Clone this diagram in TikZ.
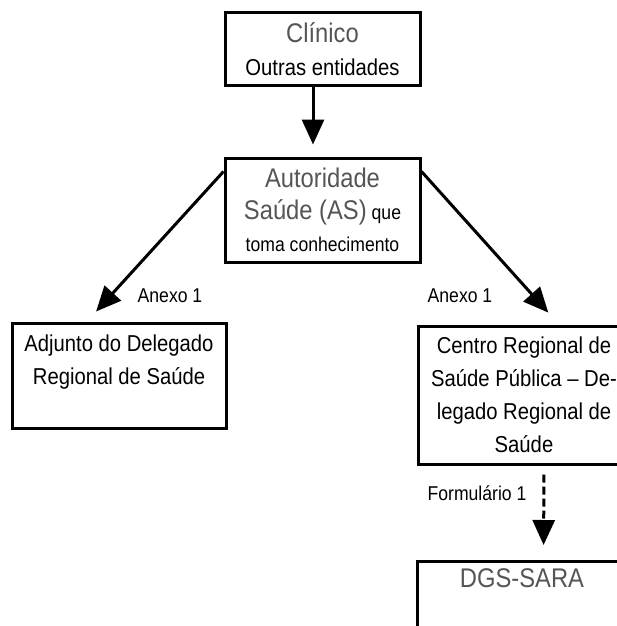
\documentclass[tikz,border=0pt]{standalone}
\usepackage{fontspec}
\setmainfont{Liberation Sans}[FakeStretch=0.88]
\usepackage{xcolor}
\usetikzlibrary{arrows.meta,positioning}
\definecolor{softgrey}{HTML}{555555}
\newcommand{\lgtext}{\fontsize{27}{32}\selectfont}
\newcommand{\mdtext}{\fontsize{23}{33}\selectfont}
\newcommand{\smtext}{\fontsize{20}{32}\selectfont}

\begin{document}
\begin{tikzpicture}[
  x=1pt, y=-1pt,
  box/.style={draw, line width=3pt, inner sep=0pt, align=center},
  arr/.style={line width=3pt, -{Triangle[length=25pt,width=22pt]}},
  darr/.style={arr, dash pattern=on 8pt off 4pt},
  lbl/.style={font=\smtext, inner sep=0pt}
]
\useasboundingbox (0,0) rectangle (617,626);
\clip (0,0) rectangle (617,626);

% ---- Top: who reports ----
\node[box, minimum width=195pt, minimum height=72pt, font=\mdtext] (clin) at (322.5,49)
  {{\lgtext\color{softgrey}Clínico}\\Outras entidades};
\node[box, minimum width=195pt, minimum height=104pt, font=\smtext, below=70pt of clin] (auth)
  {{\lgtext\color{softgrey}Autoridade}\\{\lgtext\color{softgrey}Saúde (AS)} que\\toma conhecimento};
\draw[arr, shorten >=12pt] ([xshift=-9.5pt]clin.south) -- ([xshift=-9.5pt]auth.north);

% ---- Middle: regional level ----
\node[box, minimum width=214pt, minimum height=105pt] (adj) at (119,375.5) {};
\node[font=\mdtext, align=center, inner sep=0pt] (adjtxt) at (119,362.5)
  {Adjunto do Delegado\\Regional de Saúde};
\node[box, minimum width=212pt, minimum height=138pt, font=\fontsize{23}{33}\selectfont] (ctr) at (524,395)
  {Centro Regional de\\Saúde Pública -- De-\\legado Regional de\\Saúde};

\draw[arr, shorten >=13.5pt] ([yshift=-15pt]auth.north west) -- ([xshift=-32pt]adj.north);
\draw[arr, shorten >=16pt] ([yshift=-15pt]auth.north east) -- ([xshift=35pt]ctr.north);
\node[lbl] (anexoL) at (170,296) {Anexo 1};
\node[lbl] (anexoR) at (460,296) {Anexo 1};

% ---- Bottom: national level ----
\node[box, minimum width=213pt, minimum height=120pt, anchor=north] (dgs) at (523.5,560) {};
\node[font=\lgtext, text=softgrey, inner sep=0pt] (dgstxt) at (522,578) {DGS-SARA};
\draw[darr, shorten <=9pt, shorten >=15pt] ([xshift=20pt]ctr.south) -- ([xshift=20pt]dgs.north);
\node[lbl] (form) at (477,493) {Formulário 1};

\end{tikzpicture}
\end{document}
